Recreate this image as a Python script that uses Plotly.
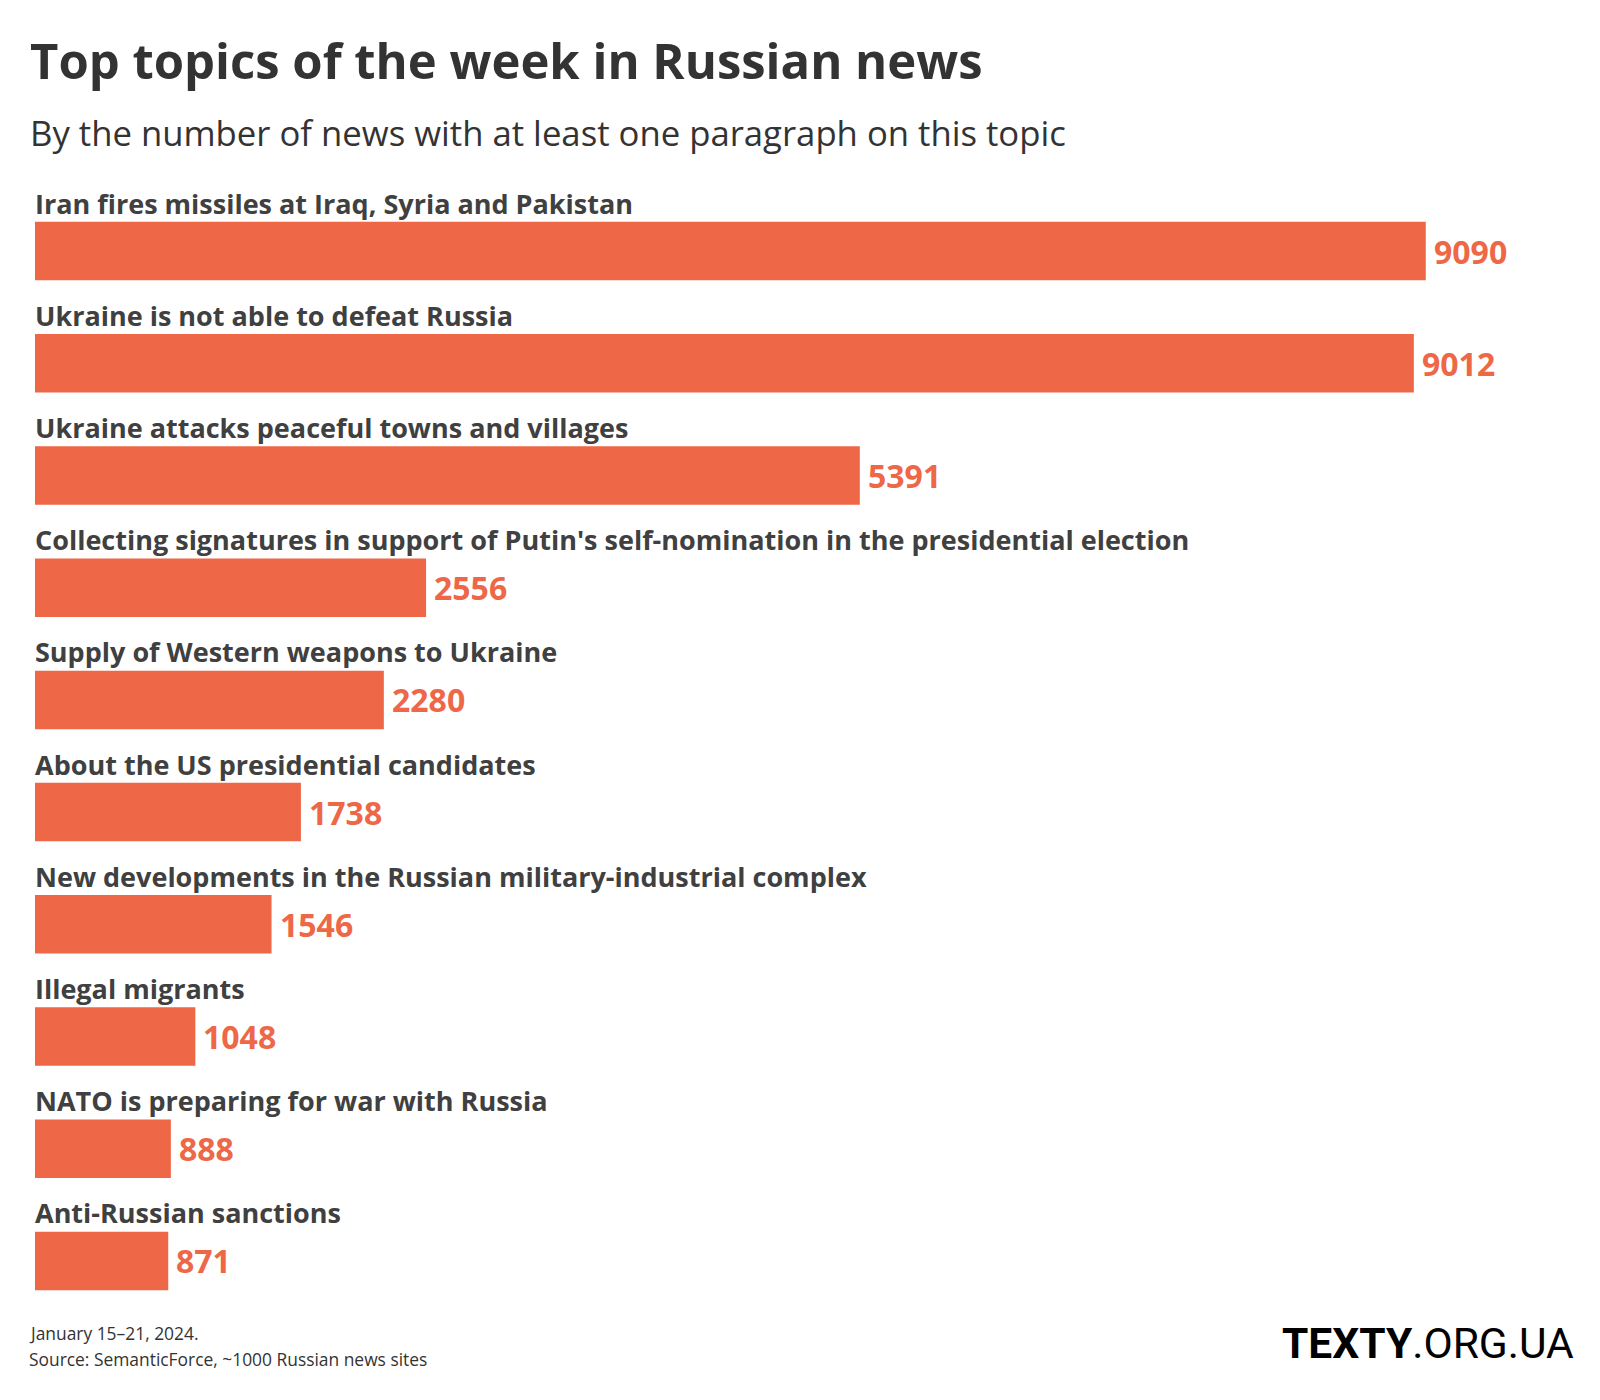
"""
Top topics of the week in Russian news - horizontal bar chart.
"""
import plotly.graph_objects as go

# Дані
topics = [
    "Iran fires missiles at Iraq, Syria and Pakistan",
    "Ukraine is not able to defeat Russia",
    "Ukraine attacks peaceful towns and villages",
    "Collecting signatures in support of Putin's self-nomination in the presidential election",
    "Supply of Western weapons to Ukraine",
    "About the US presidential candidates",
    "New developments in the Russian military-industrial complex",
    "Illegal migrants",
    "NATO is preparing for war with Russia",
    "Anti-Russian sanctions",
]
news_counts = [9090, 9012, 5391, 2556, 2280, 1738, 1546, 1048, 888, 871]

title_text = "Top topics of the week in Russian news"
subtitle_text = "By the number of news with at least one paragraph on this topic"
footer_lines = ["January 15–21, 2024.", "Source: SemanticForce, ~1000 Russian news sites"]

BAR_COLOR = "#EE6747"
LABEL_COLOR = "#404040"
TITLE_COLOR = "#333333"
FONT = "Open Sans"

W, H = 1600, 1400
M_L, M_R, M_T, M_B = 35, 35, 195, 83
PLOT_H = H - M_T - M_B


def paper_y(px):
    # піксель від верху -> координата paper
    return (H - M_B - px) / PLOT_H


def paper_x(px):
    return (px - M_L) / (W - M_L - M_R)


fig = go.Figure()

fig.add_trace(go.Bar(
    x=news_counts,
    y=topics,
    orientation='h',
    marker=dict(color=BAR_COLOR, line=dict(width=0)),
    hoverinfo='skip',
))

annotations = []

# Підписи тем над смугами та значення праворуч
for topic, value in zip(topics, news_counts):
    annotations.append(dict(
        x=0, y=topic, xref='x', yref='y',
        text=f"<b>{topic}</b>", showarrow=False,
        xanchor='left', yanchor='middle', yshift=48, xshift=-2,
        font=dict(family=FONT, size=27, color=LABEL_COLOR),
    ))
    annotations.append(dict(
        x=value, y=topic, xref='x', yref='y',
        text=f"<b>{value}</b>", showarrow=False,
        xanchor='left', yanchor='middle', xshift=6,
        font=dict(family=FONT, size=32, color=BAR_COLOR),
    ))

# Заголовок, підзаголовок
annotations.append(dict(
    x=paper_x(28), y=paper_y(60), xref='paper', yref='paper',
    text=f"<b>{title_text}</b>", showarrow=False,
    xanchor='left', yanchor='middle',
    font=dict(family=FONT, size=49, color=TITLE_COLOR),
))
annotations.append(dict(
    x=paper_x(28), y=paper_y(132), xref='paper', yref='paper',
    text=subtitle_text, showarrow=False,
    xanchor='left', yanchor='middle',
    font=dict(family=FONT, size=34.7, color=TITLE_COLOR),
))

# Футер
for line, py in zip(footer_lines, [1333, 1359]):
    annotations.append(dict(
        x=paper_x(27), y=paper_y(py), xref='paper', yref='paper',
        text=line, showarrow=False,
        xanchor='left', yanchor='middle',
        font=dict(family=FONT, size=17.4, color=TITLE_COLOR),
    ))

# Логотип
annotations.append(dict(
    x=paper_x(1576), y=paper_y(1343), xref='paper', yref='paper',
    text="<b>TEXTY</b>.ORG.UA", showarrow=False,
    xanchor='right', yanchor='middle',
    font=dict(family="Roboto", size=42.5, color="#000000"),
))

fig.update_layout(
    width=W,
    height=H,
    margin=dict(l=M_L, r=M_R, t=M_T, b=M_B, pad=0),
    paper_bgcolor='white',
    plot_bgcolor='white',
    bargap=0.479,
    showlegend=False,
    annotations=annotations,
)

fig.update_xaxes(range=[0, 10000], visible=False, fixedrange=True)
fig.update_yaxes(
    type='category',
    categoryorder='array', categoryarray=topics,
    range=[len(topics) - 0.5, -0.5],
    visible=False, fixedrange=True,
)

# прибрати стандартний відступ body, щоб графік стояв у куті сторінки
fig.write_html(
    "out.html",
    config={'displayModeBar': False},
    post_script="document.body.style.margin='0';",
)
